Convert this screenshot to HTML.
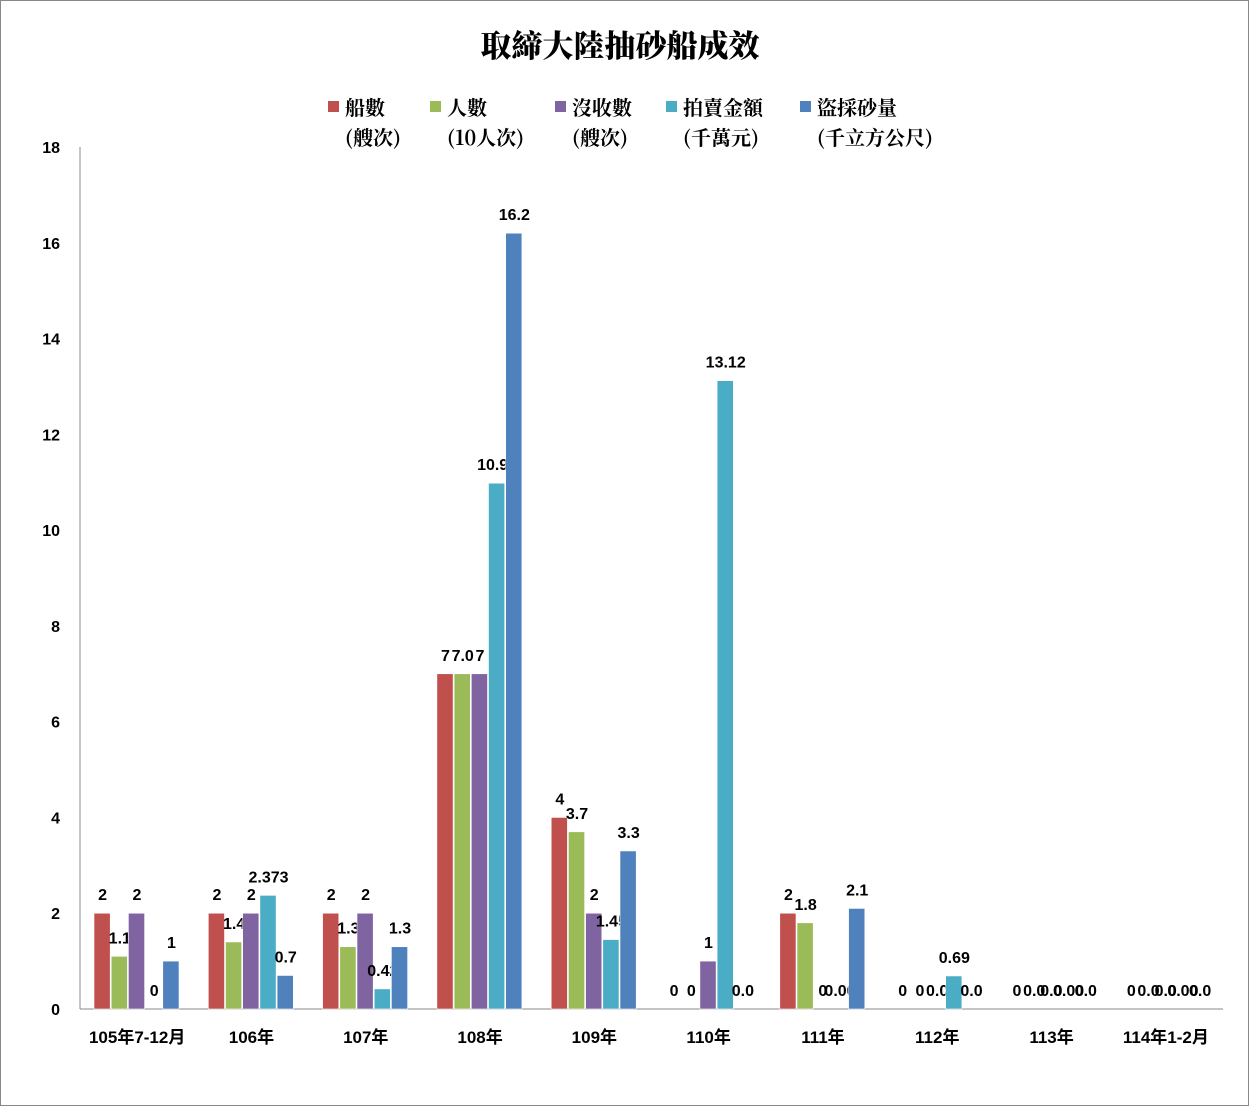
<!DOCTYPE html>
<html><head><meta charset="utf-8"><style>
body{margin:0;background:#fff}
svg{display:block;font-family:"Liberation Sans","Noto Sans CJK TC",sans-serif;font-weight:bold}
</style></head><body>
<svg id="c" width="1249" height="1106">
<rect x="0.5" y="0.5" width="1248" height="1105" fill="#fff" stroke="#888"/>
<text x="620" y="57" text-anchor="middle" font-size="31" font-family="'Noto Serif CJK SC','Noto Sans CJK TC',serif" font-weight="900">取締大陸抽砂船成效</text>
<g id="legend"></g>
<g id="axes"></g>
<g id="bars"></g>
</svg>
<script>
const categories=["105年7-12月","106年","107年","108年","109年","110年","111年","112年","113年","114年1-2月"];
const seriesNames=["船數","人數","沒收數","拍賣金額","盜採砂量"];
const seriesUnits=["(艘次)","(10人次)","(艘次)","(千萬元)","(千立方公尺)"];
const ships=[2,2,2,7,4,0,2,0,0,0];
const people=[1.1,1.4,1.3,7.0,3.7,0,1.8,0,0,0];
const confiscated=[2,2,2,7,2,1,0,0,0,0];
const auction=[0,2.373,0.42,10.98,1.45,13.12,0,0.69,0,0];
const sand=[1,0.7,1.3,16.2,3.3,0,2.1,0,0,0];
const shipsLbl=["2","2","2","7","4","0","2","0","0","0"];
const peopleLbl=["1.1","1.4","1.3","7.0","3.7","0","1.8","0","0.0","0.0"];
const confLbl=["2","2","2","7","2","1","0","0.0","0.0","0.0"];
const aucLbl=["0","2.373","0.42","10.98","1.45","13.12","0.00","0.69","0.00","0.00"];
const sandLbl=["1","0.7","1.3","16.2","3.3","0.0","2.1","0.0","0.0","0.0"];
const yTicks=[0,2,4,6,8,10,12,14,16,18];
const colors=["#C0504D","#9BBB59","#8064A2","#4BACC6","#4F81BD"];
const series=[ships,people,confiscated,auction,sand];
const labels=[shipsLbl,peopleLbl,confLbl,aucLbl,sandLbl];
const NS="http://www.w3.org/2000/svg";
const X0=80,X1=1223,Y0=1009,YT=147,YMAX=18;
const cw=(X1-X0)/categories.length, bw=17.2, gpad=14;
const y=v=>Y0-(v/YMAX)*(Y0-YT);
const xb=(i,s)=>X0+i*cw+gpad+s*bw;
function mk(tag,attrs,parent,text){const e=document.createElementNS(NS,tag);for(const k in attrs)e.setAttribute(k,attrs[k]);if(text!==undefined)e.textContent=text;parent.appendChild(e);return e;}
const axes=document.getElementById('axes'),bars=document.getElementById('bars'),leg=document.getElementById('legend');
let l=mk('line',{x1:X0,y1:YT,x2:X0,y2:Y0,stroke:'#888'},axes);


l=mk('line',{x1:X0,y1:Y0,x2:X1,y2:Y0,stroke:'#888'},axes);


yTicks.forEach(t=>{const e=mk('text',{x:60,y:y(t)+6,'text-anchor':'end','font-size':16},axes,String(t));

});
categories.forEach((c,i)=>{const e=mk('text',{x:X0+(i+0.5)*cw,y:1043,'text-anchor':'middle','font-size':17},axes,c);

});
series.forEach((arr,s)=>{arr.forEach((v,i)=>{
const x=xb(i,s);
const r=mk('rect',{x:x,y:y(v),width:bw-1,height:Y0-y(v),fill:colors[s],stroke:'#fff','stroke-width':0.6},bars);


const t=mk('text',{x:x+bw/2,y:y(v)-13,'text-anchor':'middle','font-size':16},bars,labels[s][i]);


});});
const lx=[328,430,555,666,800];
seriesNames.forEach((n,s)=>{
const g=mk('g',{},leg);


mk('rect',{x:lx[s],y:101,width:11,height:11,fill:colors[s]},g);
mk('text',{x:lx[s]+17,y:115,'font-size':20,'font-family':"'Noto Serif CJK SC','Noto Sans CJK TC',serif"},g,n);
mk('text',{x:lx[s]+17,y:145,'font-size':20,'font-family':"'Noto Serif CJK SC','Noto Sans CJK TC',serif"},g,seriesUnits[s]);
});
</script>
</body></html>
